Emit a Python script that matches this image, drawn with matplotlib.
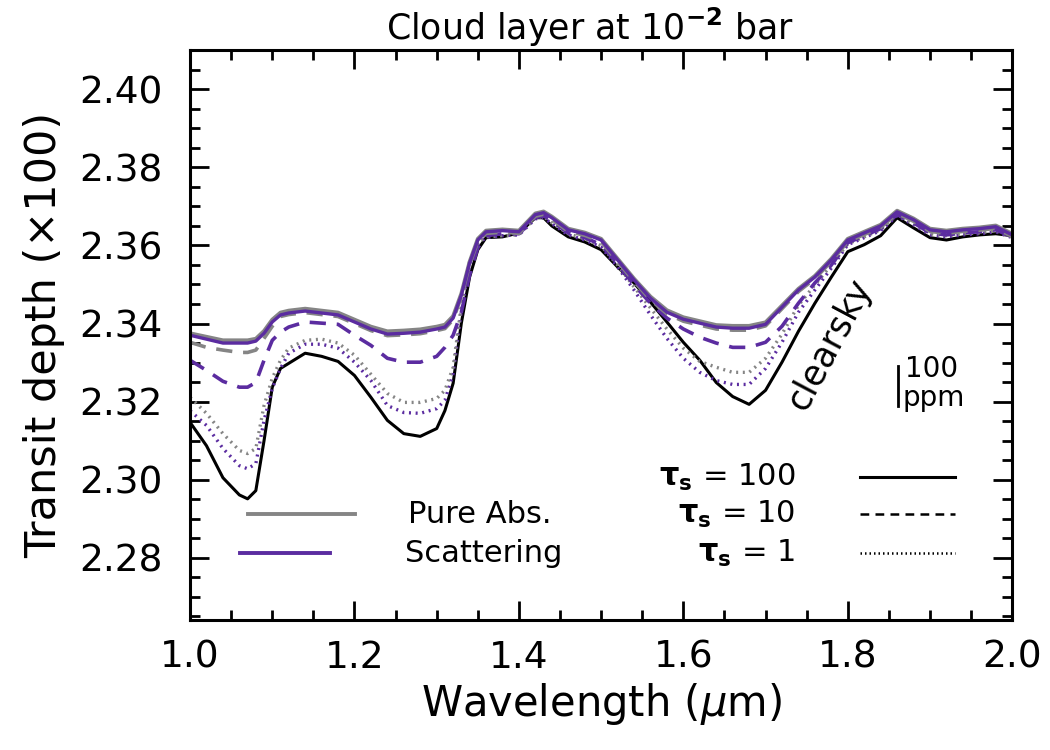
import matplotlib
matplotlib.use('Agg')
import matplotlib.pyplot as plt
from matplotlib.ticker import MultipleLocator

plt.rcParams['font.family'] = 'DejaVu Sans'
plt.rcParams['mathtext.fontset'] = 'dejavusans'

# Data: transit depth (x100) versus wavelength (um)
wl = [1.00, 1.02, 1.04, 1.06, 1.07, 1.08, 1.09, 1.10, 1.11, 1.12, 1.14, 1.16, 1.18, 1.20,
      1.22, 1.24, 1.26, 1.28, 1.30, 1.31, 1.32, 1.33, 1.34, 1.35, 1.36, 1.38, 1.40, 1.42,
      1.43, 1.44, 1.46, 1.48, 1.50, 1.52, 1.54, 1.56, 1.58, 1.60, 1.62, 1.64, 1.66, 1.68,
      1.70, 1.72, 1.74, 1.76, 1.78, 1.80, 1.82, 1.84, 1.86, 1.88, 1.90, 1.92, 1.94, 1.96,
      1.98, 2.00]

clearsky = [2.3147, 2.3087, 2.3005, 2.2961, 2.2951, 2.2972, 2.3100, 2.3237, 2.3285, 2.3298,
            2.3324, 2.3316, 2.3303, 2.3267, 2.3211, 2.3152, 2.3118, 2.3111, 2.3131, 2.3177,
            2.3247, 2.3401, 2.3519, 2.3589, 2.3620, 2.3622, 2.3632, 2.3671, 2.3671, 2.3650,
            2.3622, 2.3609, 2.3589, 2.3545, 2.3504, 2.3455, 2.3404, 2.3352, 2.3306, 2.3249,
            2.3213, 2.3193, 2.3229, 2.3301, 2.3380, 2.3452, 2.3519, 2.3584, 2.3602, 2.3625,
            2.3671, 2.3645, 2.3620, 2.3614, 2.3622, 2.3627, 2.3630, 2.3625]

# tau_s = 100
abs_100 = [2.3375, 2.3366, 2.3357, 2.3357, 2.3357, 2.3361, 2.3381, 2.3410, 2.3428, 2.3433,
           2.3438, 2.3433, 2.3428, 2.3410, 2.3392, 2.3380, 2.3382, 2.3385, 2.3392, 2.3397,
           2.3419, 2.3477, 2.3558, 2.3617, 2.3638, 2.3641, 2.3638, 2.3682, 2.3687, 2.3674,
           2.3643, 2.3633, 2.3617, 2.3566, 2.3515, 2.3469, 2.3434, 2.3416, 2.3406, 2.3396,
           2.3394, 2.3394, 2.3403, 2.3446, 2.3489, 2.3522, 2.3566, 2.3617, 2.3635, 2.3653,
           2.3689, 2.3669, 2.3643, 2.3638, 2.3643, 2.3646, 2.3651, 2.3630]
sca_100 = [2.3370, 2.3360, 2.3350, 2.3350, 2.3350, 2.3355, 2.3375, 2.3404, 2.3422, 2.3427,
           2.3432, 2.3427, 2.3422, 2.3404, 2.3386, 2.3373, 2.3375, 2.3378, 2.3386, 2.3391,
           2.3414, 2.3473, 2.3555, 2.3614, 2.3635, 2.3638, 2.3635, 2.3679, 2.3684, 2.3671,
           2.3640, 2.3630, 2.3614, 2.3563, 2.3512, 2.3465, 2.3429, 2.3411, 2.3401, 2.3391,
           2.3388, 2.3388, 2.3398, 2.3442, 2.3486, 2.3519, 2.3563, 2.3614, 2.3632, 2.3650,
           2.3686, 2.3666, 2.3640, 2.3635, 2.3640, 2.3643, 2.3648, 2.3627]

# tau_s = 10
abs_10 = [2.3352, 2.3339, 2.3332, 2.3326, 2.3326, 2.3332, 2.3362, 2.3393, 2.3418, 2.3423,
          2.3428, 2.3423, 2.3418, 2.3400, 2.3382, 2.3369, 2.3371, 2.3374, 2.3382, 2.3387,
          2.3410, 2.3469, 2.3551, 2.3610, 2.3631, 2.3634, 2.3631, 2.3675, 2.3680, 2.3667,
          2.3636, 2.3626, 2.3610, 2.3559, 2.3508, 2.3461, 2.3425, 2.3406, 2.3396, 2.3386,
          2.3383, 2.3383, 2.3394, 2.3438, 2.3482, 2.3515, 2.3559, 2.3610, 2.3628, 2.3646,
          2.3682, 2.3662, 2.3636, 2.3631, 2.3636, 2.3639, 2.3644, 2.3623]
sca_10 = [2.3306, 2.3280, 2.3252, 2.3237, 2.3237, 2.3249, 2.3306, 2.3357, 2.3378, 2.3391,
          2.3404, 2.3401, 2.3398, 2.3370, 2.3344, 2.3311, 2.3301, 2.3301, 2.3316, 2.3339,
          2.3370, 2.3429, 2.3524, 2.3594, 2.3625, 2.3630, 2.3630, 2.3671, 2.3676, 2.3663,
          2.3632, 2.3620, 2.3602, 2.3553, 2.3499, 2.3452, 2.3414, 2.3386, 2.3365, 2.3350,
          2.3339, 2.3339, 2.3352, 2.3393, 2.3452, 2.3504, 2.3550, 2.3607, 2.3625, 2.3643,
          2.3679, 2.3658, 2.3632, 2.3627, 2.3632, 2.3635, 2.3640, 2.3622]

# tau_s = 1
abs_1 = [2.3211, 2.3170, 2.3118, 2.3075, 2.3067, 2.3080, 2.3190, 2.3260, 2.3306, 2.3337,
         2.3357, 2.3360, 2.3350, 2.3319, 2.3270, 2.3221, 2.3198, 2.3198, 2.3208, 2.3229,
         2.3288, 2.3447, 2.3558, 2.3607, 2.3622, 2.3625, 2.3627, 2.3671, 2.3674, 2.3658,
         2.3630, 2.3617, 2.3599, 2.3550, 2.3494, 2.3440, 2.3386, 2.3337, 2.3303, 2.3288,
         2.3275, 2.3275, 2.3311, 2.3373, 2.3447, 2.3499, 2.3550, 2.3604, 2.3622, 2.3640,
         2.3679, 2.3656, 2.3630, 2.3625, 2.3630, 2.3632, 2.3638, 2.3622]
sca_1 = [2.3177, 2.3139, 2.3080, 2.3036, 2.3028, 2.3041, 2.3152, 2.3234, 2.3285, 2.3324,
         2.3347, 2.3347, 2.3337, 2.3301, 2.3254, 2.3190, 2.3172, 2.3170, 2.3182, 2.3203,
         2.3272, 2.3434, 2.3550, 2.3604, 2.3620, 2.3625, 2.3627, 2.3668, 2.3671, 2.3656,
         2.3627, 2.3614, 2.3596, 2.3545, 2.3486, 2.3422, 2.3362, 2.3311, 2.3275, 2.3254,
         2.3244, 2.3244, 2.3285, 2.3352, 2.3429, 2.3486, 2.3542, 2.3602, 2.3620, 2.3638,
         2.3676, 2.3653, 2.3627, 2.3622, 2.3627, 2.3630, 2.3635, 2.3620]

gray = '#858585'
purple = '#5b2ca0'

fig = plt.figure(figsize=(10.5, 7.5), dpi=100)
ax = fig.add_axes([0.181, 0.173, 0.783, 0.760])

ax.plot(wl, clearsky, color='black', lw=2.2)
ax.plot(wl, sca_1, color=purple, lw=2.4, ls=(0, (0.6, 1.4)))
ax.plot(wl, abs_1, color=gray, lw=2.4, ls=(0, (0.6, 1.4)))
ax.plot(wl, sca_10, color=purple, lw=2.6, ls=(0, (4.5, 3.0)))
ax.plot(wl, abs_10, color=gray, lw=2.6, ls=(0, (4.5, 3.0)))
ax.plot(wl, abs_100, color=gray, lw=2.8)
ax.plot(wl, sca_100, color=purple, lw=2.4)

ax.set_xlim(1.0, 2.0)
ax.set_ylim(2.264, 2.410)
ax.xaxis.set_major_locator(MultipleLocator(0.2))
ax.xaxis.set_minor_locator(MultipleLocator(0.05))
ax.yaxis.set_major_locator(MultipleLocator(0.02))
ax.yaxis.set_minor_locator(MultipleLocator(0.005))
ax.xaxis.set_major_formatter(matplotlib.ticker.FormatStrFormatter('%.1f'))
ax.yaxis.set_major_formatter(matplotlib.ticker.FormatStrFormatter('%.2f'))
ax.tick_params(which='both', direction='in', top=True, right=True, width=2, labelsize=27)
ax.tick_params(which='major', length=14)
ax.tick_params(axis='x', which='major', pad=14)
ax.tick_params(axis='y', which='major', pad=20)
ax.tick_params(which='minor', length=7)
for s in ax.spines.values():
    s.set_linewidth(2.2)

ax.set_xlabel('Wavelength ($\\mu$m)', fontsize=30, labelpad=4)
ax.set_ylabel('Transit depth (\u00d7100)', fontsize=31, labelpad=10)
fig.text(0.562, 0.963, 'Cloud layer at 10$^{\\mathbf{-2}}$ bar', fontsize=25,
         ha='center', va='center')

# legend drawn by hand
ax.plot([0.071, 0.201], [0.186, 0.186], transform=ax.transAxes, color=gray, lw=2.8)
ax.plot([0.061, 0.170], [0.1175, 0.1175], transform=ax.transAxes, color=purple, lw=2.8)
ax.text(0.265, 0.186, 'Pure Abs.', transform=ax.transAxes, fontsize=22, va='center')
ax.text(0.262, 0.1175, 'Scattering', transform=ax.transAxes, fontsize=22, va='center')
tau_y = [0.251, 0.186, 0.1175]
tau_lab = ['100', '10', '1']
tau_ls = ['-', (0, (3.5, 2.5)), (0, (0.6, 1.2))]
for yy, lab, ls in zip(tau_y, tau_lab, tau_ls):
    ax.text(0.736, yy, '$\\mathbf{\\tau_{s}}$ = ' + lab, transform=ax.transAxes,
            fontsize=22, va='center', ha='right')
    ax.plot([0.815, 0.931], [yy, yy], transform=ax.transAxes, color='black',
            lw=1.8 if ls != '-' else 2.2, ls=ls)

ax.text(1.778, 2.3345, 'clearsky', rotation=62, fontsize=25, ha='center', va='center')

# 100 ppm scale bar
ax.plot([1.861, 1.861], [2.3190, 2.3290], color='black', lw=2)
ax.text(1.870, 2.3248, '100', fontsize=20, ha='left', va='bottom')
ax.text(1.867, 2.3246, 'ppm', fontsize=20, ha='left', va='top')

fig.savefig('out.png', dpi=100)
